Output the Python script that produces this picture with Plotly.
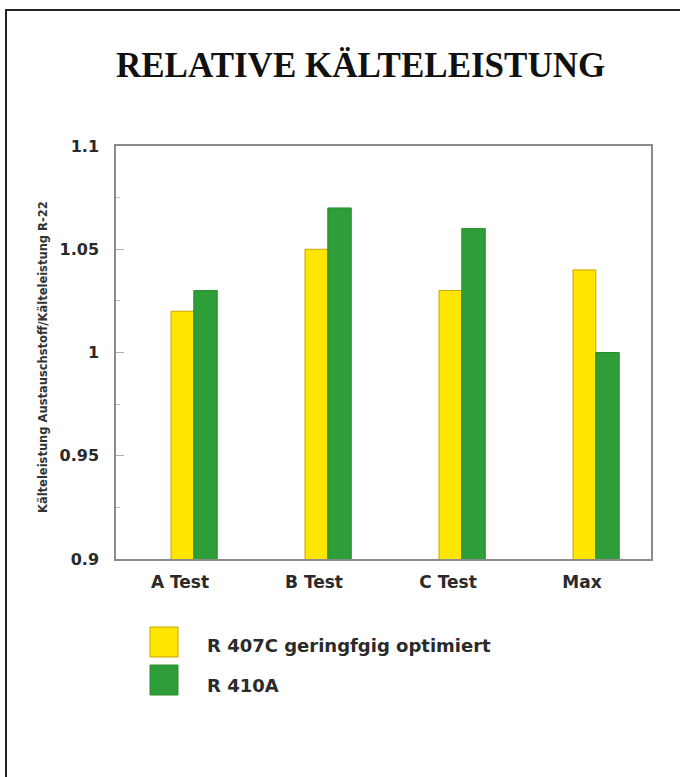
import plotly.graph_objects as go

categories = ["A Test", "B Test", "C Test", "Max"]
series_names = ["R 407C geringfgig optimiert", "R 410A"]
r407c = [1.02, 1.05, 1.03, 1.04]
r410a = [1.03, 1.07, 1.06, 1.00]
y_ticks = [0.9, 0.95, 1.0, 1.05, 1.1]
y_tick_labels = ["0.9", "0.95", "1", "1.05", "1.1"]

title_text = "RELATIVE KÄLTELEISTUNG"
y_title = "Kälteleistung Austauschstoff/Kälteleistung R-22"

YELLOW = "#FFE600"
GREEN = "#2E9E38"

W, H = 680, 777
L, R, T, B = 116, 651, 146, 559  # plot area pixel bounds

def px(x):
    return (x - L) / (R - L)

def py(y):
    return (B - y) / (B - T)

xpos = list(range(len(categories)))

fig = go.Figure()
fig.add_trace(go.Bar(
    x=xpos, y=r407c, name=series_names[0],
    marker=dict(color=YELLOW, line=dict(color="#C9A400", width=1)),
    width=0.17, offset=-0.067, showlegend=False,
))
fig.add_trace(go.Bar(
    x=xpos, y=r410a, name=series_names[1],
    marker=dict(color=GREEN, line=dict(color="#2A8A30", width=1)),
    width=0.175, offset=0.103, showlegend=False,
))

SANS = "DejaVu Sans, Verdana, sans-serif"
xtick_font = dict(family=SANS, size=17, color="#2a2a2a", weight="bold")
ytick_font = dict(family=SANS, size=16, color="#2a2a2a", weight="bold")

fig.update_layout(
    width=W, height=H,
    margin=dict(l=L, r=W - R, t=T, b=H - B),
    paper_bgcolor="white", plot_bgcolor="white",
    barmode="overlay",
    xaxis=dict(
        range=[(L - 180) / 134.0, (R - 180) / 134.0],
        tickvals=xpos, ticktext=categories,
        showgrid=False, zeroline=False,
        showline=True, linecolor="#8a8a8a", linewidth=1.5, mirror=True,
        ticks="", tickfont=xtick_font, ticklabelstandoff=7,
    ),
    yaxis=dict(
        range=[0.9, 1.1],
        tickvals=y_ticks, ticktext=y_tick_labels,
        showgrid=False, zeroline=False,
        showline=True, linecolor="#8a8a8a", linewidth=1.5, mirror=True,
        ticks="inside", ticklen=8, tickcolor="#b0b0b0", tickwidth=1,
        minor=dict(ticks="inside", ticklen=4, tickcolor="#c0c0c0", dtick=0.025, showgrid=False),
        tickfont=ytick_font, ticklabelstandoff=12,
    ),
    showlegend=False,
)

shapes = []
# outer frame
shapes.append(dict(type="rect", xref="paper", yref="paper",
                   x0=px(6), x1=px(700), y0=py(800), y1=py(10),
                   line=dict(color="#222", width=2), fillcolor="rgba(0,0,0,0)", layer="below"))
# legend squares
shapes.append(dict(type="rect", xref="paper", yref="paper",
                   x0=px(150), x1=px(178), y0=py(657), y1=py(627),
                   line=dict(color="#C9A400", width=1), fillcolor=YELLOW))
shapes.append(dict(type="rect", xref="paper", yref="paper",
                   x0=px(150), x1=px(178), y0=py(695), y1=py(665),
                   line=dict(color="#2A8A30", width=1), fillcolor=GREEN))
fig.update_layout(shapes=shapes)

leg_font = dict(family=SANS, size=18, color="#2a2a2a", weight="bold")
annotations = [
    dict(text=title_text, xref="paper", yref="paper", x=px(360), y=py(66),
         xanchor="center", yanchor="middle", showarrow=False,
         font=dict(family="Liberation Serif, Times New Roman, serif", size=35, color="#111", weight="bold")),
    dict(text=y_title, xref="paper", yref="paper", x=px(43), y=py(357),
         xanchor="center", yanchor="middle", showarrow=False, textangle=-90,
         font=dict(family=SANS, size=11.5, color="#333", weight="bold")),
    dict(text=series_names[0], xref="paper", yref="paper", x=px(205), y=py(645),
         xanchor="left", yanchor="middle", showarrow=False, font=leg_font),
    dict(text=series_names[1], xref="paper", yref="paper", x=px(205), y=py(685),
         xanchor="left", yanchor="middle", showarrow=False, font=leg_font),
]
fig.update_layout(annotations=annotations)

fig.write_html(
    "out.html",
    config={"displayModeBar": False},
    post_script="document.body.style.margin='0';document.body.style.overflow='hidden';",
)
